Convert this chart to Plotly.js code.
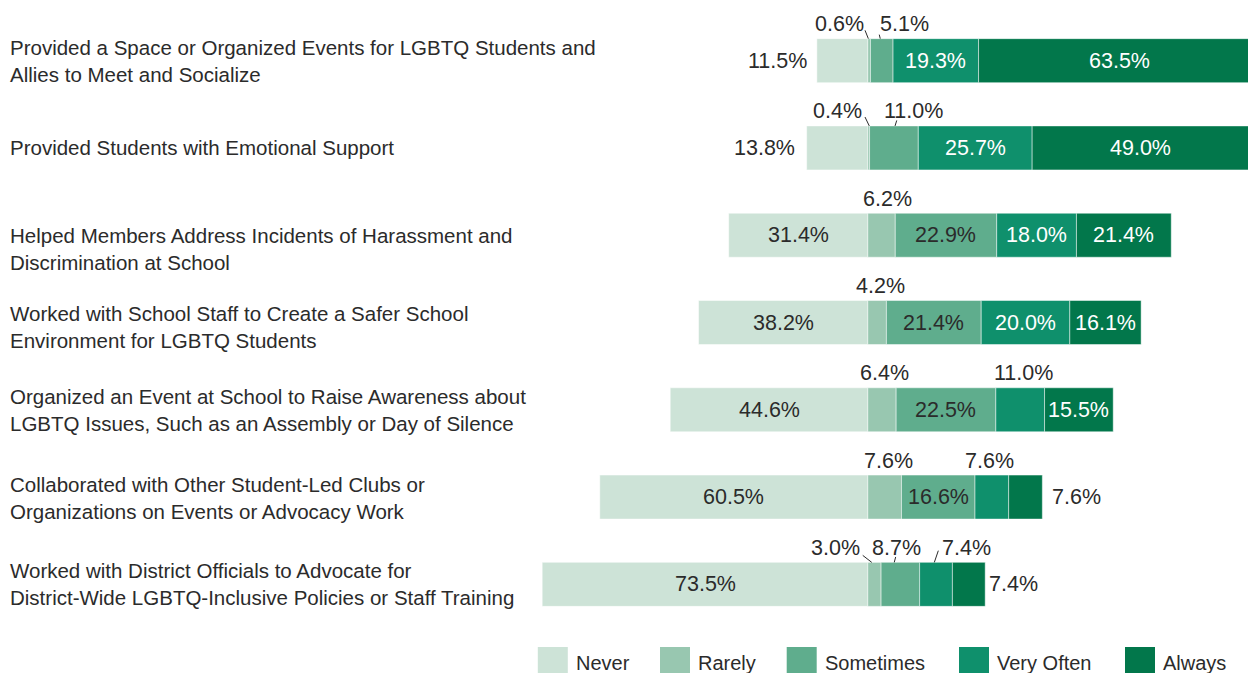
<!DOCTYPE html>
<html>
<head>
<meta charset="utf-8">
<script src="https://cdn.plot.ly/plotly-3.0.1.min.js"></script>
<style>
  html, body { margin: 0; padding: 0; background: #ffffff; }
  #chart { width: 1248px; height: 673px; }
</style>
</head>
<body>
<div id="chart"></div>
<script>
// ---------------- DATA ----------------
const categories = [
  "Provided a Space or Organized Events for LGBTQ Students and<br>Allies to Meet and Socialize",
  "Provided Students with Emotional Support",
  "Helped Members Address Incidents of Harassment and<br>Discrimination at School",
  "Worked with School Staff to Create a Safer School<br>Environment for LGBTQ Students",
  "Organized an Event at School to Raise Awareness about<br>LGBTQ Issues, Such as an Assembly or Day of Silence",
  "Collaborated with Other Student-Led Clubs or<br>Organizations on Events or Advocacy Work",
  "Worked with District Officials to Advocate for<br>District-Wide LGBTQ-Inclusive Policies or Staff Training"
];
const seriesNames = ["Never", "Rarely", "Sometimes", "Very Often", "Always"];
const never     = [11.5, 13.8, 31.4, 38.2, 44.6, 60.5, 73.5];
const rarely    = [0.6, 0.4, 6.2, 4.2, 6.4, 7.6, 3.0];
const sometimes = [5.1, 11.0, 22.9, 21.4, 22.5, 16.6, 8.7];
const veryOften = [19.3, 25.7, 18.0, 20.0, 11.0, 7.6, 7.4];
const always    = [63.5, 49.0, 21.4, 16.1, 15.5, 7.6, 7.4];

// ---------------- STYLE ----------------
const colors = ["#cde3d7", "#98c7b0", "#5fad8d", "#0f906c", "#02774b"];
const darkText = "#2b2b2b";
const insideTextColors = [darkText, darkText, darkText, "#ffffff", "#ffffff"];
const FONT = '"Liberation Sans", Arial, "DejaVu Sans", sans-serif';
const NUM_SIZE = 21.5, CAT_SIZE = 20.5, LEG_SIZE = 20;

// Geometry of the plot area (pixels)
const M = { l: 530, r: 0, t: 17, b: 45 };
const W = 1248, H = 673;
const PW = W - M.l - M.r, PH = H - M.t - M.b;
const pxX = px => (px - M.l) / PW;           // pixel -> paper x
const pxY = py => (H - M.b - py) / PH;       // pixel -> paper y

// value-label placement per row / series
// p: in | outL | outR | up ; a: anchor for "up"; dx: pixel shift; lead: [dx0,dy0,dx1,dy1] leader line (pixels, up positive)
const UP = 36.5;
const placement = [
  [{p:"outL",dx:-10}, {p:"up",a:"right",dx:-5,lead:[-0.8,22,-4.1,30.3]}, {p:"up",a:"left",dx:-2,lead:[-1.5,22,-2.5,26]}, {p:"in"}, {p:"in"}],
  [{p:"outL",dx:-12}, {p:"up",a:"right",dx:-6.7,lead:[0.6,22,-3.7,30.9]}, {p:"up",a:"left",dx:-10,lead:[1.1,22,2.8,27.5]}, {p:"in"}, {p:"in"}],
  [{p:"in"}, {p:"up",a:"center",dx:6}, {p:"in"}, {p:"in"}, {p:"in"}],
  [{p:"in"}, {p:"up",a:"center",dx:3.6}, {p:"in"}, {p:"in"}, {p:"in"}],
  [{p:"in"}, {p:"up",a:"center",dx:3}, {p:"in"}, {p:"up",a:"center",dx:3}, {p:"in"}],
  [{p:"in"}, {p:"up",a:"center",dx:3.7}, {p:"in"}, {p:"up",a:"center",dx:-2}, {p:"outR",dx:10}],
  [{p:"in"}, {p:"up",a:"right",dx:-14.4,lead:[-2.7,22,-11.7,29]}, {p:"up",a:"left",dx:-28,lead:[-6.1,22,-4.7,27.4]}, {p:"up",a:"left",dx:5.7,lead:[-1.7,22,2.3,33.7]}, {p:"outR",dx:4}]
];
const catShift = [0, 0, -13.5, -4, 0, -1, 0];   // vertical offset of category labels (px)
const CAT_LINE = 27;
const legendBoxX = [537.8, 660, 786.7, 959, 1125];

// ---------------- TRACES ----------------
const values = [never, rarely, sometimes, veryOften, always];
const traces = values.map((vals, s) => ({
  type: "bar",
  orientation: "h",
  name: seriesNames[s],
  y: categories,
  x: s === 0 ? vals.map(v => -v) : vals,
  customdata: vals,
  marker: { color: colors[s], line: { color: "rgba(255,255,255,0.8)", width: 0.6 } },
  hovertemplate: "%{customdata:.1f}%<extra>" + seriesNames[s] + "</extra>"
}));

// ---------------- ANNOTATIONS & SHAPES ----------------
const annotations = [];
const shapes = [];

categories.forEach((cat, i) => {
  // segment geometry in data units
  const segs = [];
  segs.push({ start: -never[i], end: 0 });
  let acc = 0;
  for (let s = 1; s < 5; s++) {
    const v = values[s][i];
    segs.push({ start: acc, end: acc + v });
    acc += v;
  }
  for (let s = 0; s < 5; s++) {
    const v = values[s][i];
    const seg = segs[s];
    const center = (seg.start + seg.end) / 2;
    const pl = placement[i][s];
    const ann = {
      xref: "x", yref: "y", y: i, showarrow: false,
      text: v.toFixed(1) + "%",
      font: { family: FONT, size: NUM_SIZE, color: darkText },
      borderpad: 0, borderwidth: 0, yanchor: "middle"
    };
    if (pl.p === "in") {
      ann.x = center; ann.xanchor = "center";
      ann.font.color = insideTextColors[s];
    } else if (pl.p === "outL") {
      ann.x = seg.start; ann.xanchor = "right"; ann.xshift = pl.dx;
    } else if (pl.p === "outR") {
      ann.x = seg.end; ann.xanchor = "left"; ann.xshift = pl.dx;
    } else {
      ann.x = center; ann.xanchor = pl.a; ann.xshift = pl.dx; ann.yshift = UP;
      if (pl.lead) {
        shapes.push({
          type: "line", xref: "x", yref: "y",
          xsizemode: "pixel", ysizemode: "pixel",
          xanchor: center, yanchor: i,
          x0: pl.lead[0], y0: pl.lead[1], x1: pl.lead[2], y1: pl.lead[3],
          line: { color: darkText, width: 1 }
        });
      }
    }
    annotations.push(ann);
  }

  // category label, left aligned
  const lines = cat.split("<br>");
  lines.forEach((ln, j) => {
    annotations.push({
      xref: "paper", yref: "y", x: pxX(10), y: i,
      xanchor: "left", yanchor: "middle", showarrow: false,
      yshift: ((lines.length - 1) / 2 - j) * CAT_LINE + catShift[i],
      text: ln, align: "left", borderpad: 0, borderwidth: 0,
      font: { family: FONT, size: CAT_SIZE, color: darkText }
    });
  });
});

// custom legend
seriesNames.forEach((nm, s) => {
  shapes.push({
    type: "rect", xref: "paper", yref: "paper", layer: "above",
    x0: pxX(legendBoxX[s]), x1: pxX(legendBoxX[s] + 30),
    y0: pxY(647), y1: pxY(678),
    fillcolor: colors[s], line: { width: 0 }
  });
  annotations.push({
    xref: "paper", yref: "paper", x: pxX(legendBoxX[s] + 38), y: pxY(662.5),
    xanchor: "left", yanchor: "middle", showarrow: false, text: nm,
    borderpad: 0, borderwidth: 0,
    font: { family: FONT, size: LEG_SIZE, color: darkText }
  });
});

// ---------------- LAYOUT ----------------
const layout = {
  width: W, height: H,
  margin: { l: M.l, r: M.r, t: M.t, b: M.b, pad: 0 },
  paper_bgcolor: "#ffffff", plot_bgcolor: "#ffffff",
  barmode: "relative", bargap: 0.496,
  showlegend: false,
  font: { family: FONT, color: darkText },
  xaxis: { range: [-(867.8 - M.l) / 4.43, (W - M.r - 867.8) / 4.43], visible: false, fixedrange: true },
  yaxis: { type: "category", categoryorder: "array", categoryarray: categories,
           range: [6.5, -0.5], visible: false, fixedrange: true },
  annotations: annotations,
  shapes: shapes
};

Plotly.newPlot("chart", traces, layout, { displayModeBar: false, responsive: false });
</script>
</body>
</html>
